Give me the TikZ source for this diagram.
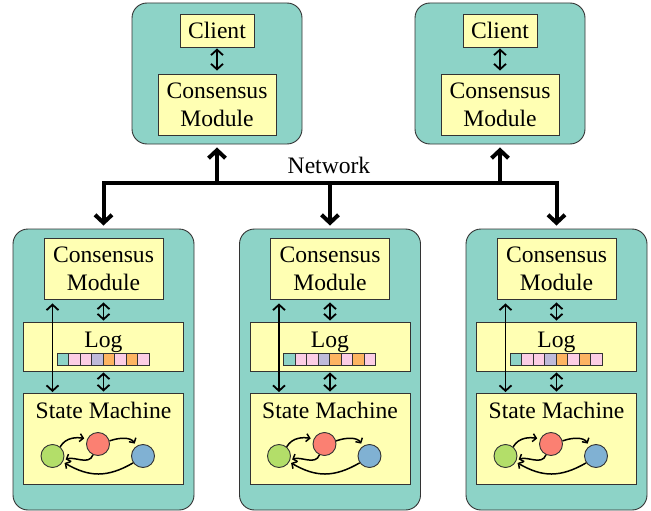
\documentclass[tikz,border=0pt]{standalone}
\usepackage{fontspec}
\setmainfont{Liberation Serif}
\newfontfamily\timesfont{Liberation Serif}
\usetikzlibrary{arrows.meta,calc}
\definecolor{tealc}{HTML}{8DD3C7}
\definecolor{yellowc}{HTML}{FFFFB3}
\definecolor{pinkc}{HTML}{FCCDE5}
\definecolor{lavc}{HTML}{BEBADA}
\definecolor{orangec}{HTML}{FDB462}
\definecolor{redc}{HTML}{FB8072}
\definecolor{bluec}{HTML}{80B1D3}
\definecolor{greenc}{HTML}{B3DE69}
\definecolor{edgec}{HTML}{333333}
\begin{document}
\begin{tikzpicture}[x=1pt,y=-1pt,
  font=\timesfont\fontsize{23.6}{28}\selectfont,
  outerbox/.style={draw=edgec, fill=tealc, rounded corners=15pt, line width=0.9pt, inner sep=0pt},
  ybox/.style={draw=edgec, fill=yellowc, line width=0.9pt, inner sep=0pt, align=center},
  cell/.style={draw=edgec, line width=0.7pt, minimum width=11.5pt, minimum height=12pt, inner sep=0pt},
  state/.style={circle, draw=edgec, line width=0.9pt, minimum size=23pt, inner sep=0pt},
  dbl/.style={{Straight Barb[length=5.5pt,width=12pt]}-{Straight Barb[length=5.5pt,width=12pt]}, line width=1.8pt},
  netline/.style={line width=4pt},
  netarrow/.style={line width=4pt, -{Straight Barb[length=8pt,width=17pt]}},
  smarrow/.style={line width=1.5pt, -{Straight Barb[length=3.5pt,width=8pt]}}
]
\useasboundingbox (0,0) rectangle (651,511);

% top boxes
\foreach \cx/\i in {217/1,500/2}{
  \node[outerbox, minimum width=170pt, minimum height=141pt] (top\i) at (\cx,73.5) {};
  \node[ybox, minimum width=74pt, minimum height=33pt] (cl\i) at (\cx,30.5) {Client};
  \node[ybox, minimum width=118pt, minimum height=61pt] (tcm\i) at (\cx,104.5) {Consensus\\Module};
  \draw[dbl, shorten <=1pt, shorten >=3pt] (cl\i) -- (tcm\i);
  \coordinate (up\i) at (\cx,183);
}

% bottom boxes
\foreach \cx/\i in {103.5/1,330/2,556.5/3}{
  \node[outerbox, minimum width=181pt, minimum height=281pt] (bot\i) at (\cx,369.5) {};
  \node[ybox, minimum width=119pt, minimum height=61pt] (cm\i) at (\cx,268.5) {Consensus\\Module};
  \node[ybox, minimum width=160pt, minimum height=49pt] (log\i) at (\cx,346.5) {};
  \node[anchor=base] (logt\i) at (\cx,347) {Log};
  \foreach \c [count=\k] in {tealc,pinkc,pinkc,lavc,orangec,pinkc,orangec,pinkc}{
    \node[cell, fill=\c] (cell\i-\k) at ({\cx-46.5+11.5*(\k-0.5)},359) {};
  }
  \node[ybox, minimum width=160pt, minimum height=91pt] (sm\i) at (\cx,438.5) {};
  \node[anchor=base] (smt\i) at (\cx,418) {State Machine};
  \node[state, fill=greenc] (g\i) at ({\cx-51},456) {};
  \node[state, fill=redc] (r\i) at ({\cx-5.5},444) {};
  \node[state, fill=bluec] (b\i) at ({\cx+39.5},456) {};
  \draw[smarrow, shorten >=3pt] (g\i.50) to[out=60,in=170] (r\i.155);
  \draw[smarrow, shorten >=3pt] (r\i.15) to[out=20,in=120] (b\i.125);
  \draw[smarrow, shorten >=2pt] (r\i.245) to[out=250,in=20] (g\i.-20);
  \draw[smarrow, shorten >=2pt] (b\i.215) to[out=210,in=330,looseness=1.1] (g\i.-30);
  \draw[dbl, shorten <=3pt, shorten >=1pt] (cm\i) -- (log\i);
  \draw[dbl, shorten <=1pt, shorten >=1pt] (log\i) -- (sm\i);
  \draw[dbl, shorten <=4pt, shorten >=0.5pt] ($(cm\i.south)+(-51,0)$) -- ($(sm\i.north)+(-51,0)$);
  \coordinate (dn\i) at (\cx,183);
}

% network
\draw[netline, line cap=rect] (dn1) -- (dn3);
\draw[netarrow, shorten >=3pt] (dn1) -- (bot1.north);
\draw[netarrow, shorten >=3pt] (dn2) -- (bot2.north);
\draw[netarrow, shorten >=3pt] (dn3) -- (bot3.north);
\draw[netarrow, shorten >=3pt] (up1) -- (top1.south);
\draw[netarrow, shorten >=3pt] (up2) -- (top2.south);
\node[anchor=base] (net) at (329,173) {Network};
\end{tikzpicture}
\end{document}
